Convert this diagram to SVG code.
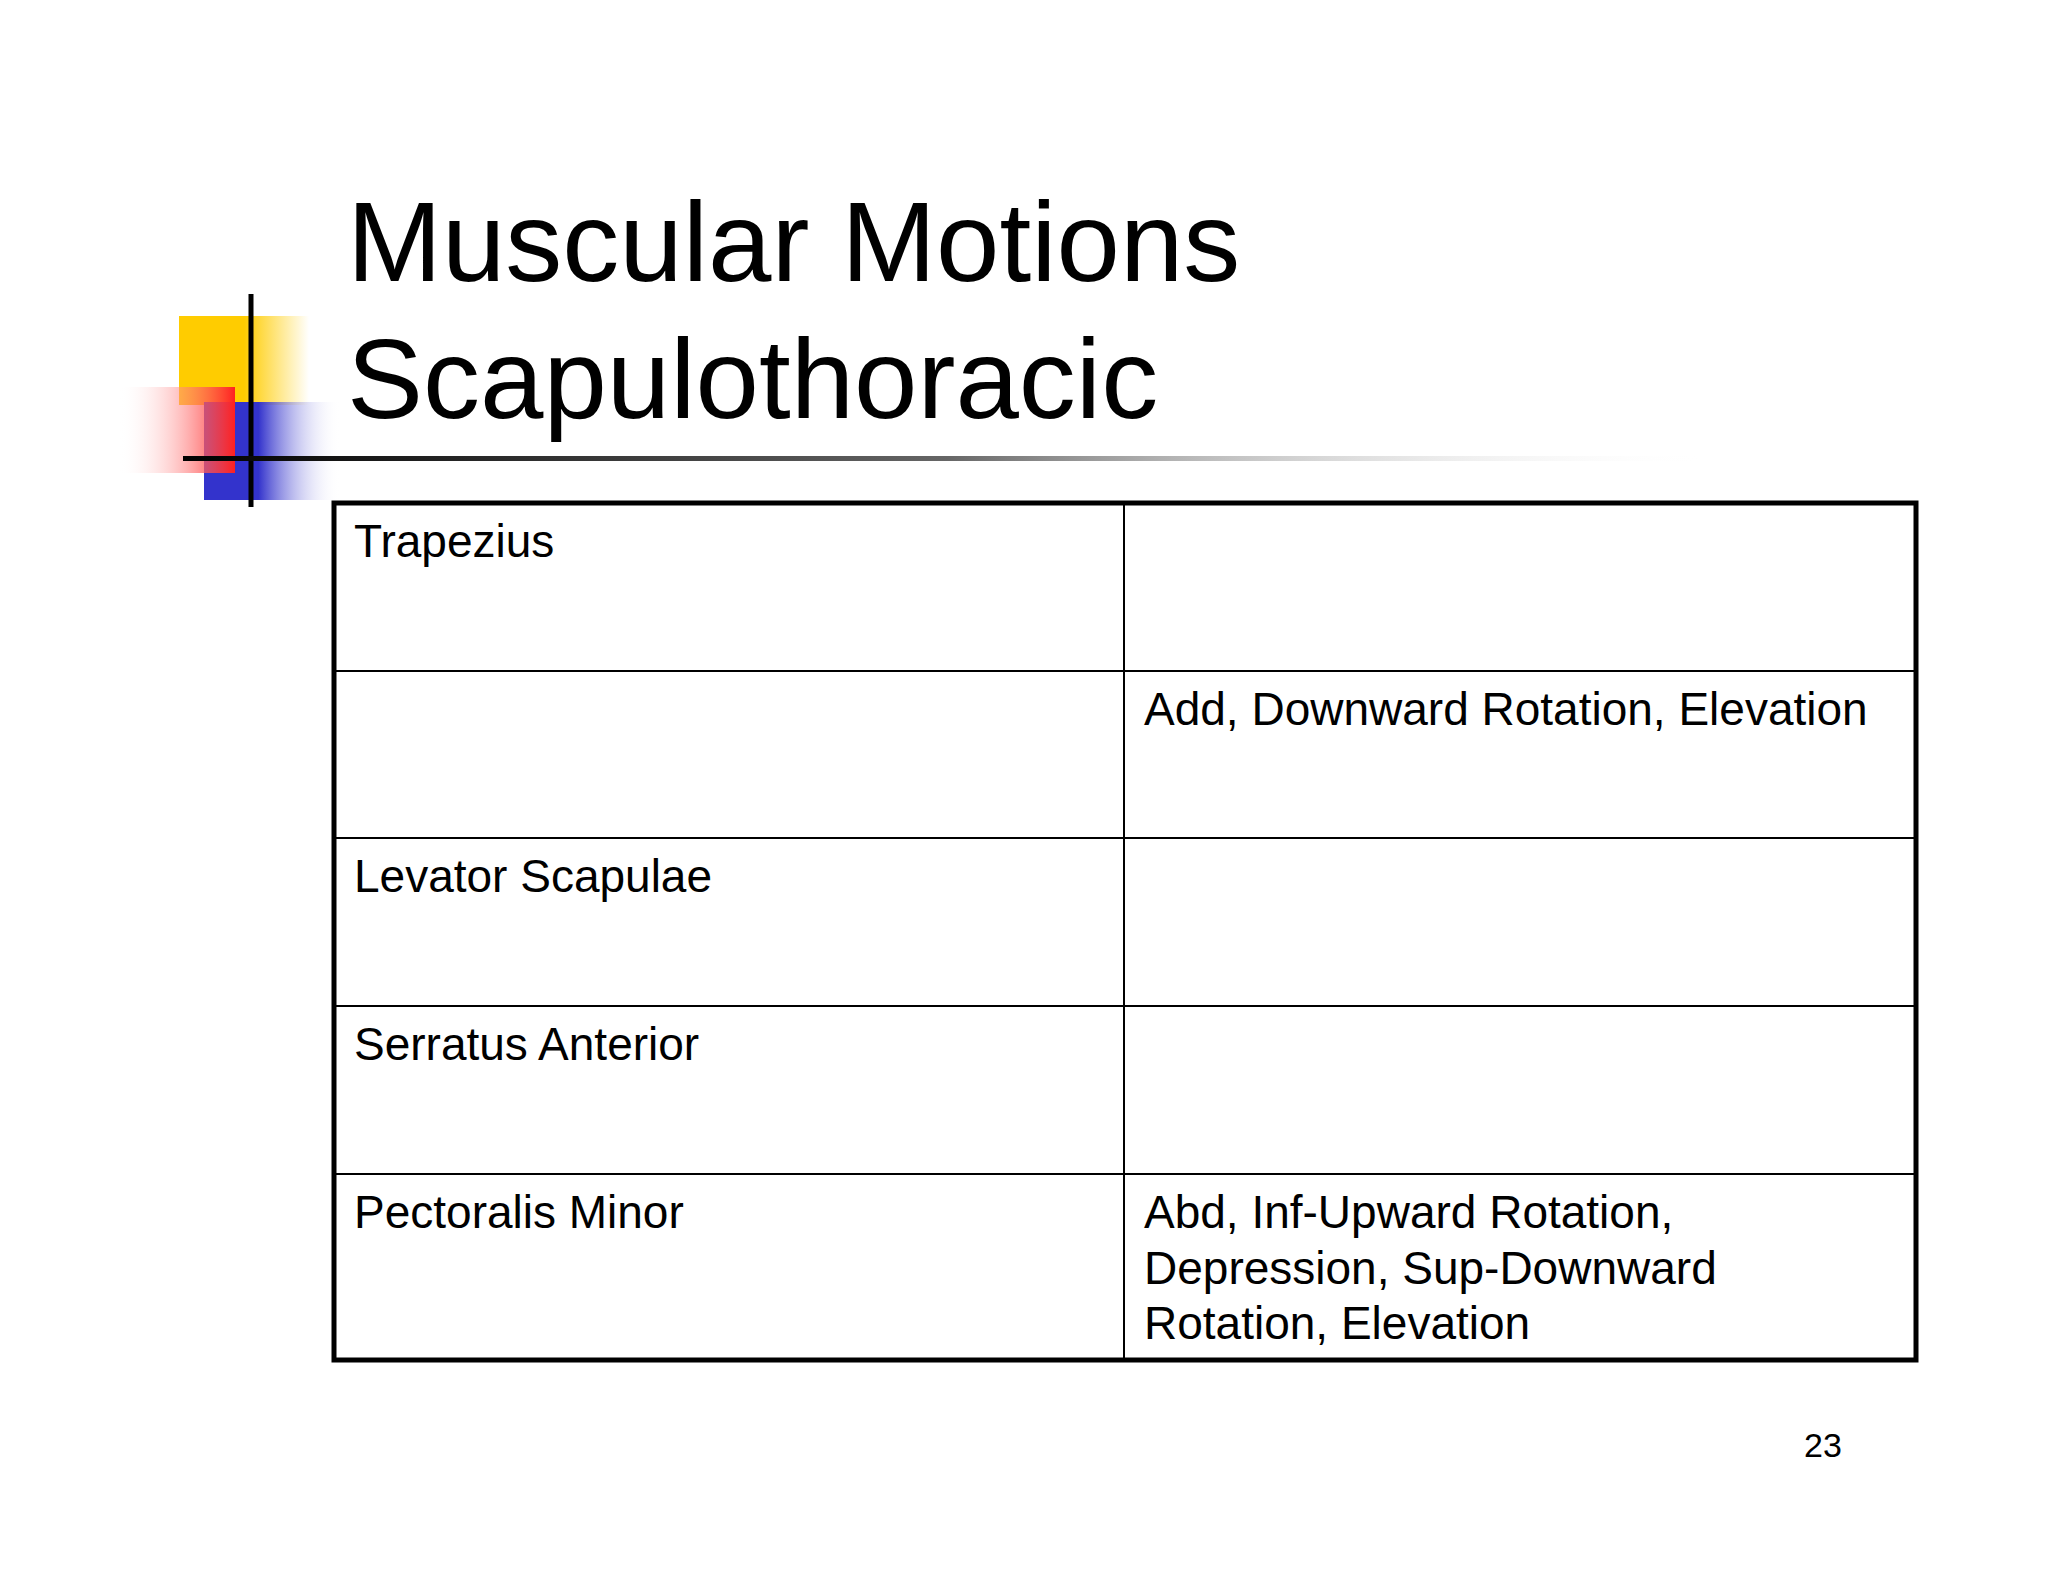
<svg xmlns="http://www.w3.org/2000/svg" width="2048" height="1582" viewBox="0 0 2048 1582">
<defs>
<linearGradient id="ln" x1="0" x2="1" y1="0" y2="0"><stop offset="0" stop-color="#000"/><stop offset="0.5" stop-color="#666"/><stop offset="1" stop-color="#fff" stop-opacity="0"/></linearGradient>
<linearGradient id="yl" x1="0" x2="1"><stop offset="0.5" stop-color="#ffcc00"/><stop offset="1" stop-color="#fff"/></linearGradient>
<linearGradient id="rd" x1="1" x2="0"><stop offset="0" stop-color="#ff2020"/><stop offset="1" stop-color="#fff" stop-opacity="0"/></linearGradient>
<linearGradient id="bl" x1="0" x2="1"><stop offset="0.4" stop-color="#3333cc"/><stop offset="1" stop-color="#fff" stop-opacity="0"/></linearGradient>
<style>.t{font-family:"Liberation Sans",Arial,sans-serif;fill:#000}.c{font-size:46px}.g{stroke:#000;stroke-width:2}</style>
</defs>
<rect width="2048" height="1582" fill="#fff"/>
<g id="logo">
<rect x="179" y="316" width="130" height="89" fill="url(#yl)"/>
<rect x="204" y="402" width="136" height="98" fill="url(#bl)"/>
<rect x="119" y="387" width="116" height="86" fill="url(#rd)"/>
<line x1="251" y1="294" x2="251" y2="507" stroke="#000" stroke-width="5"/>
<rect x="183" y="456" width="1528" height="5" fill="url(#ln)"/>
</g>
<g id="title" class="t" font-size="114">
<text x="347" y="281">Muscular Motions</text>
<text x="347" y="418">Scapulothoracic</text>
</g>
<g id="table">
<rect x="334" y="503" width="1582" height="857" fill="none" stroke="#000" stroke-width="5"/>
<g class="g">
<line x1="1124" y1="503" x2="1124" y2="1360"/>
<line x1="334" y1="671" x2="1916" y2="671"/>
<line x1="334" y1="838" x2="1916" y2="838"/>
<line x1="334" y1="1006" x2="1916" y2="1006"/>
<line x1="334" y1="1174" x2="1916" y2="1174"/>
</g>
<g class="t c">
<text x="354" y="557">Trapezius</text>
<text x="1144" y="725">Add, Downward Rotation, Elevation</text>
<text x="354" y="892">Levator Scapulae</text>
<text x="354" y="1060">Serratus Anterior</text>
<text x="354" y="1228">Pectoralis Minor</text>
<text x="1144" y="1228">Abd, Inf-Upward Rotation,</text>
<text x="1144" y="1284">Depression, Sup-Downward</text>
<text x="1144" y="1339">Rotation, Elevation</text>
</g>
</g>
<text class="t" x="1823" y="1457" font-size="34" text-anchor="middle">23</text>
</svg>
